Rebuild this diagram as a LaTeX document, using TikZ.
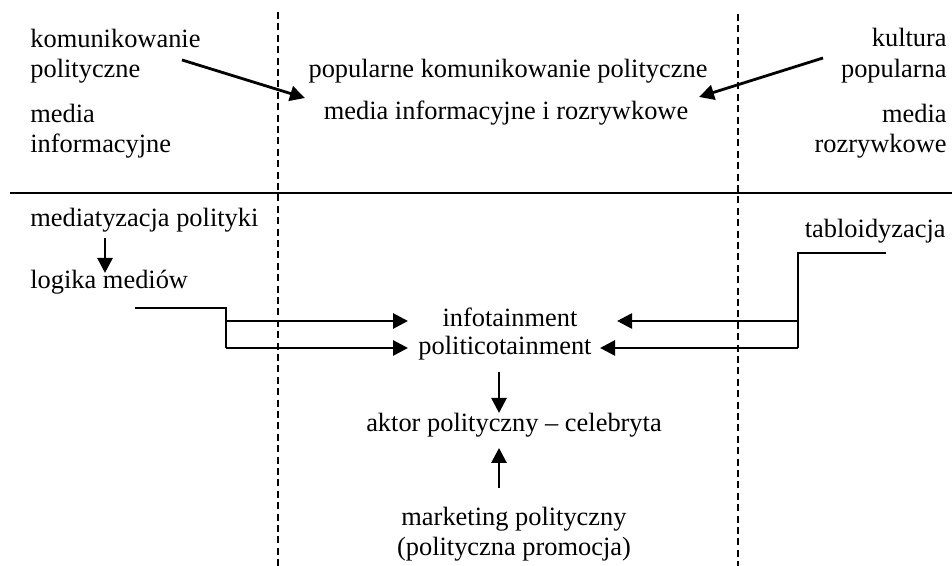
\documentclass[tikz,border=0pt]{standalone}
\usepackage{fontspec}
\setmainfont{Liberation Serif}
\usetikzlibrary{arrows.meta}
\tikzset{
  divider/.style={line width=1pt, draw=black},
  zoneline/.style={line width=0.7pt, draw=black, dash pattern=on 3.5pt off 2.2pt},
  pointer/.style={line width=1.4pt, draw=black, -{Triangle[length=7.5pt,width=7.5pt]}},
  feed/.style={line width=1pt, draw=black},
  term/.style={inner sep=0pt, font=\fontsize{13.2}{15}\selectfont},
}

\begin{document}
\begin{tikzpicture}
\useasboundingbox (0,0) rectangle (16.729,9.946);
% zones
\draw[zoneline] (4.885,9.735) -- (4.885,0.000);
\draw[zoneline] (12.969,9.700) -- (12.969,0.000);
\draw[divider] (0.176,6.555) -- (16.729,6.555);
% upper part
\node[term, anchor=base west] (komA) at (0.527,9.103) {komunikowanie};
\node[term, anchor=base west] (komB) at (0.527,8.576) {polityczne};
\node[term, anchor=base west] (infA) at (0.527,7.785) {media};
\node[term, anchor=base west] (infB) at (0.527,7.258) {informacyjne};
\node[term, anchor=base east] (kulA) at (16.642,9.120) {kultura};
\node[term, anchor=base east] (kulB) at (16.642,8.576) {popularna};
\node[term, anchor=base east] (rozA) at (16.642,7.785) {media};
\node[term, anchor=base east] (rozB) at (16.642,7.258) {rozrywkowe};
\node[term, anchor=base] (popkom) at (8.927,8.576) {popularne komunikowanie polityczne};
\node[term, anchor=base] (infroz) at (8.892,7.838) {media informacyjne i rozrywkowe};
\coordinate (komOut) at (3.198,8.892);
\coordinate (popIn) at (5.360,8.224);
\coordinate (kulOut) at (14.463,8.927);
\coordinate (kulIn) at (12.284,8.242);
\draw[pointer] (komOut) -- (popIn);
\draw[pointer] (kulOut) -- (kulIn);
% lower part
\node[term, anchor=base west] (mediat) at (0.527,5.957) {mediatyzacja polityki};
\node[term, anchor=base west] (logika) at (0.527,4.868) {logika mediów};
\node[term, anchor=base east] (tabl) at (16.624,5.764) {tabloidyzacja};
\node[term, anchor=base] (info) at (8.962,4.200) {infotainment};
\node[term, anchor=base] (polit) at (8.874,3.708) {politicotainment};
\node[term, anchor=base] (aktor) at (9.032,2.355) {aktor polityczny – celebryta};
\node[term, anchor=base] (markA) at (9.032,0.720) {marketing polityczny};
\node[term, anchor=base] (markB) at (9.032,0.193) {(polityczna promocja)};
\coordinate (mediatOut) at (1.845,5.764);
\coordinate (logikaIn) at (1.845,5.149);
\draw[pointer] (mediatOut) -- (logikaIn);
\coordinate (logOut) at (2.372,4.534);
\coordinate (logKnee) at (3.972,4.534);
\coordinate (logInfo) at (3.972,4.305);
\coordinate (logPolit) at (3.972,3.831);
\coordinate (infoW) at (7.170,4.305);
\coordinate (politW) at (7.170,3.831);
\draw[feed] (logOut) -- (logKnee) -- (logPolit);
\draw[pointer] (logInfo) -- (infoW);
\draw[pointer] (logPolit) -- (politW);
\coordinate (tablOut) at (15.570,5.500);
\coordinate (tablKnee) at (14.023,5.500);
\coordinate (tablInfo) at (14.023,4.305);
\coordinate (tablPolit) at (14.023,3.831);
\coordinate (infoE) at (10.843,4.305);
\coordinate (politE) at (10.544,3.831);
\draw[feed] (tablOut) -- (tablKnee) -- (tablPolit);
\draw[pointer] (tablInfo) -- (infoE);
\draw[pointer] (tablPolit) -- (politE);
\coordinate (politOut) at (8.769,3.409);
\coordinate (aktorTop) at (8.769,2.689);
\coordinate (markOut) at (8.769,1.371);
\coordinate (aktorBot) at (8.769,2.074);
\draw[pointer] (politOut) -- (aktorTop);
\draw[pointer] (markOut) -- (aktorBot);
\end{tikzpicture}
\end{document}
